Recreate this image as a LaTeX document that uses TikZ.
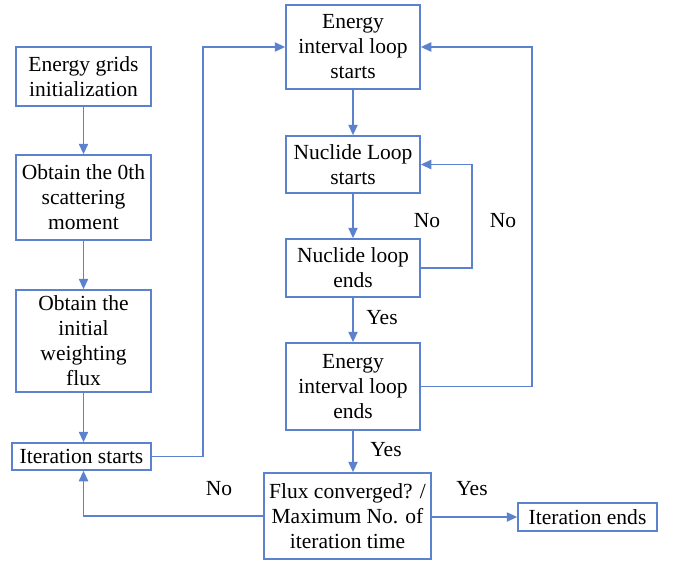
\documentclass[tikz,border=0pt]{standalone}
\usepackage{fontspec}
\setmainfont{Liberation Serif}
\usetikzlibrary{arrows.meta}
\definecolor{flowblue}{RGB}{92,130,206}

\begin{document}
\begin{tikzpicture}[x=0.025cm, y=-0.025cm, line width=1.2pt,
    every node/.style={font=\fontsize{15.3}{17.8}\selectfont},
    box/.style 2 args={draw=flowblue, align=center, inner sep=0pt,
      minimum width=#1*0.025cm, minimum height=#2*0.025cm},
    link/.style={draw=flowblue, -{Triangle[length=2.6mm, width=2.3mm]}}]
    \useasboundingbox (0,0) rectangle (675,564);

    % left column
    \node[box={135}{59}] (ngrid) at (83.5, 76.5) {Energy grids\\initialization};
    \node[box={135}{85}] (nmoment) at (83.5, 197.5) {Obtain the 0th\\scattering\\moment};
    \node[box={135}{102}] (nflux) at (83.5, 341) {Obtain the\\initial\\weighting\\flux};
    \node[box={139}{27}] (nitstart) at (81.5, 456.5) {Iteration starts};

    % loops
    \node[box={134}{84}] (neloop) at (353, 47) {Energy\\interval loop\\starts};
    \node[box={134}{57}] (nnucstart) at (353, 164.5) {Nuclide Loop\\starts};
    \node[box={134}{58}] (nnucend) at (353, 268) {Nuclide loop\\ends};
    \node[box={134}{87}] (neend) at (353, 386.5) {Energy\\interval loop\\ends};

    % convergence check
    \node[box={167}{86}] (nconv) at (347.5, 516) {Flux converged? /\\Maximum No. of\\iteration time};
    \node[box={139}{28}] (nitend) at (587.5, 517) {Iteration ends};

    \draw[link] (ngrid) -- (nmoment);
    \draw[link] (nmoment) -- (nflux);
    \draw[link] (nflux.south) -- (nflux.south |- nitstart.north);
    \draw[link] (nitstart.east) -- ++(51, 0) |- (neloop.west);

    \draw[link] (neloop) -- (nnucstart);
    \draw[link] (nnucstart) -- (nnucend);
    \draw[link] (nnucend.east) -- ++(51, 0) |- (nnucstart.east);
    \draw[link] (nnucend) -- (neend);
    \draw[link] (neend.east) -- ++(111, 0) |- (neloop.east);
    \draw[link] (neend.south) -- (neend.south |- nconv.north);

    \draw[link] (nconv.west) -| (nflux.south |- nitstart.south);
    \draw[link] (nconv.east |- nitend.west) -- (nitend.west);

    % labels
    \node (lnoa) at (427, 221) {No};
    \node (lnob) at (503, 221) {No};
    \node (lyesa) at (382, 318) {Yes};
    \node (lyesb) at (386, 450) {Yes};
    \node (lnoc) at (219, 489) {No};
    \node (lyesc) at (472, 489) {Yes};
\end{tikzpicture}
\end{document}
